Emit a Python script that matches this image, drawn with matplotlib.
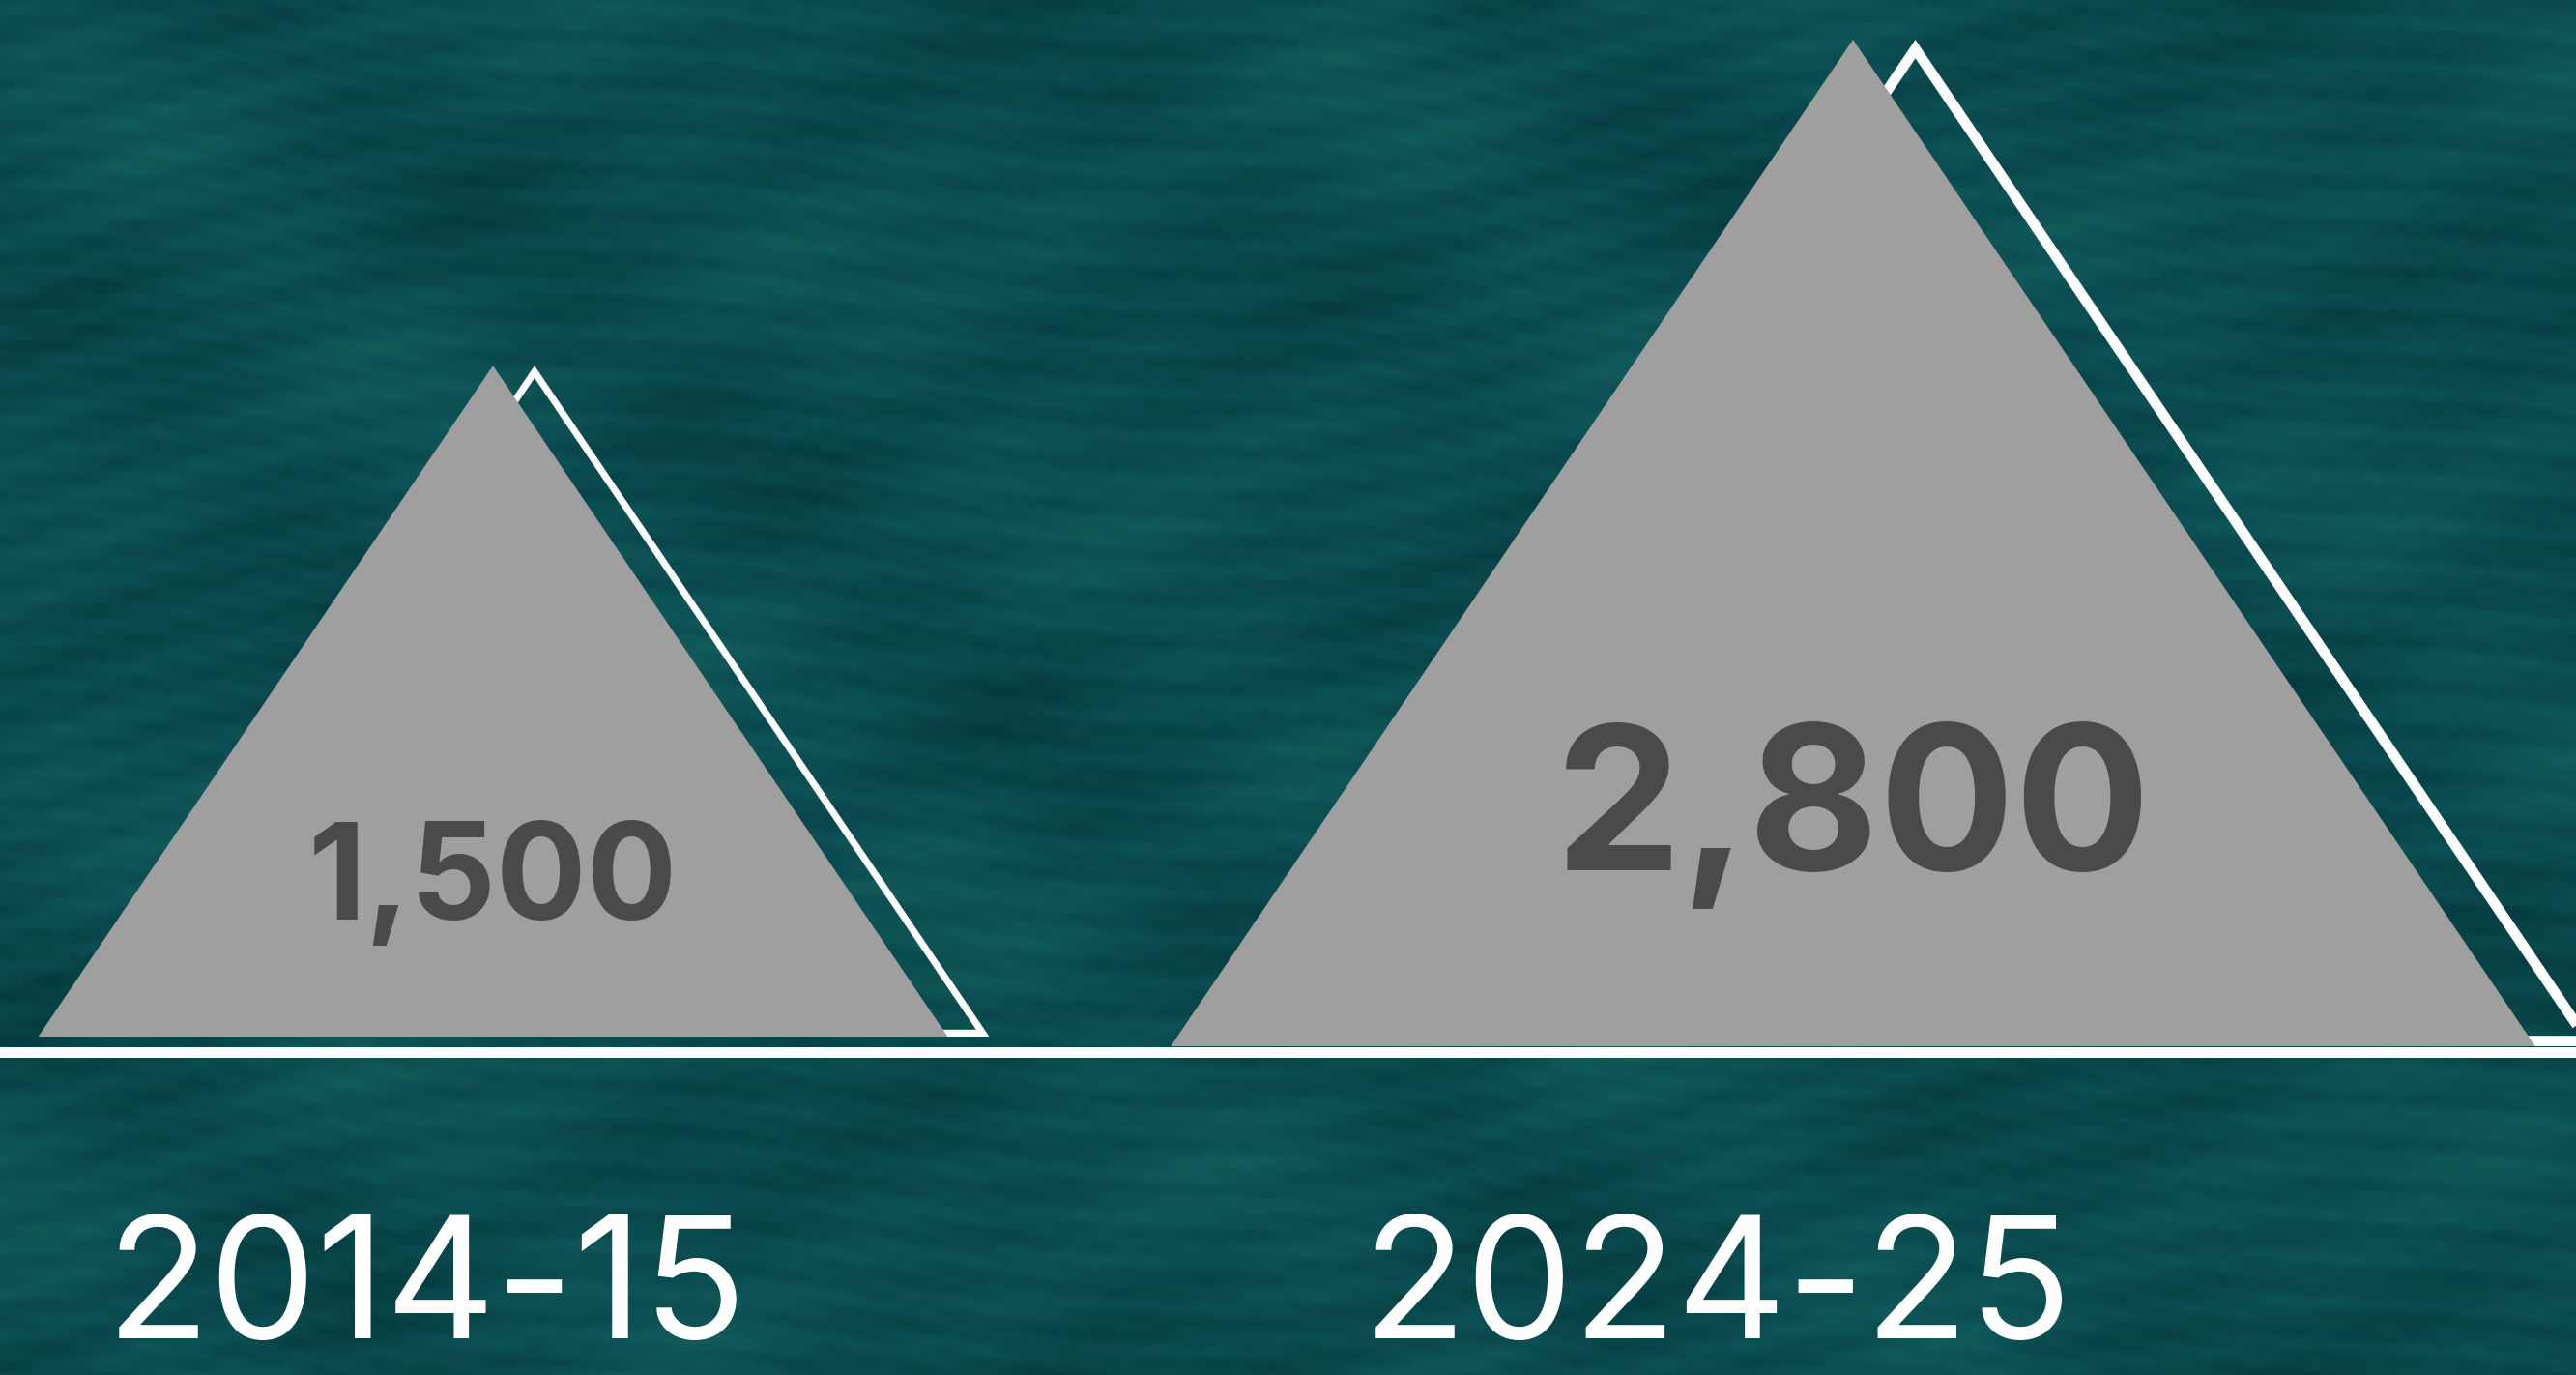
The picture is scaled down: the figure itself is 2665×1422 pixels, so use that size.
import numpy as np
import matplotlib.pyplot as plt
from matplotlib.patches import Polygon
from matplotlib.colors import LinearSegmentedColormap

periods = ["2014-15", "2024-25"]
values = [1500, 2800]
value_labels = ["1,500", "2,800"]

# layout, in output pixels
W, H = 2665, 1422
DPI = 100
GAMMA = 0.65          # power scale used for the triangle heights
BASE_Y = 1082         # top edge of the white base line (from top)
TOP_PAD = 41          # room above the tallest triangle
SLOPE = 0.678         # half width / height of each triangle
centers = [510, 1917]
label_x = [441, 1777]
lift = [10, 0]        # small triangle floats just above the line

FONT = ["Inter", "DejaVu Sans"]


def fwd(y):
    y = np.asarray(y, dtype=float)
    return np.sign(y) * np.abs(y) ** GAMMA


def inv(t):
    t = np.asarray(t, dtype=float)
    return np.sign(t) * np.abs(t) ** (1 / GAMMA)


fig = plt.figure(figsize=(W / DPI, H / DPI), dpi=DPI)
fig.patch.set_facecolor("#0b4b4f")

# water-like backdrop: soft blotches plus faint ripples
bg = fig.add_axes([0, 0, 1, 1], zorder=0)
yy, xx = np.mgrid[0:1:360j, 0:1.874:675j]
blotch = (np.sin(2 * np.pi * (xx * 1.7 + yy * 0.9)) * np.sin(2 * np.pi * (yy * 3.1 - xx * 0.5))
          + 0.6 * np.sin(2 * np.pi * (xx * 4.3 + yy * 2.2)) * np.sin(2 * np.pi * (yy * 5.7 + xx * 1.1)))
ripple = (0.25 * np.sin(2 * np.pi * (yy * 30 + 0.9 * np.sin(2 * np.pi * xx * 0.8) + xx * 3))
          + 0.15 * np.sin(2 * np.pi * (yy * 63 - xx * 9 + 0.4 * np.sin(2 * np.pi * xx * 2.3)))
          + 0.12 * np.sin(2 * np.pi * (xx * 23 + yy * 7)) * np.sin(2 * np.pi * yy * 41))
field = 0.55 * blotch + ripple
field = (field - field.min()) / (field.max() - field.min())
water = LinearSegmentedColormap.from_list("water", ["#043a3e", "#0b4c50", "#145f5e"])
bg.imshow(field, cmap=water, aspect="auto", extent=[0, 1, 0, 1], vmin=0.0, vmax=1.05)
bg.axis("off")

ax = fig.add_axes([0, 0, 1, 1], zorder=1)
ax.patch.set_alpha(0)
ax.axis("off")
ax.set_xlim(0, W)
ax.set_yscale("function", functions=(fwd, inv))
px_per_unit = (BASE_Y - TOP_PAD) / float(fwd(max(values)))
ax.set_ylim(float(inv(-(H - BASE_Y) / px_per_unit)), float(inv(BASE_Y / px_per_unit)))

to_data = ax.transData.inverted()

# white base line
line_y = to_data.transform((0, H - BASE_Y - 5.5))[1]
ax.axhline(line_y, color="white", lw=11 * 72 / DPI, zorder=1.5)

for i, v in enumerate(values):
    cx = centers[i]
    base = H - BASE_Y + lift[i]
    apex = ax.transData.transform((cx, v))[1] + lift[i]
    h = apex - base
    hw = SLOPE * h
    tri = np.array([[cx - hw, base], [cx, base + h], [cx + hw, base]])

    # outline: same triangle pulled in by half the stroke, nudged right
    lw = 0.0104 * h
    side = np.hypot(hw, h)
    r = hw * h / (hw + side)
    inc = np.array([cx, base + r])
    outline = inc + (tri - inc) * (r - lw / 2) / r + np.array([0.062 * h, 0])

    ax.add_patch(Polygon(to_data.transform(outline), closed=True, fill=False,
                         ec="white", lw=lw * 72 / DPI, joinstyle="miter", zorder=2))
    ax.add_patch(Polygon(to_data.transform(tri), closed=True, fc="#9f9f9f",
                         ec="none", zorder=3))

    tx, ty = to_data.transform((cx, base + 0.175 * h))
    ax.text(tx, ty, value_labels[i], ha="center", va="baseline",
            fontsize=0.2 * h * 72 / DPI, fontweight="bold", color="#4a4a4a",
            family=FONT, zorder=4)

    # period label, kept just inside the bottom edge
    lx, ly = to_data.transform((label_x[i], 2))
    ax.text(lx, ly, periods[i], ha="center", va="bottom", fontsize=176 * 72 / DPI,
            color="white", family=FONT, zorder=4)

fig.savefig("out.png", dpi=DPI, facecolor=fig.get_facecolor())
